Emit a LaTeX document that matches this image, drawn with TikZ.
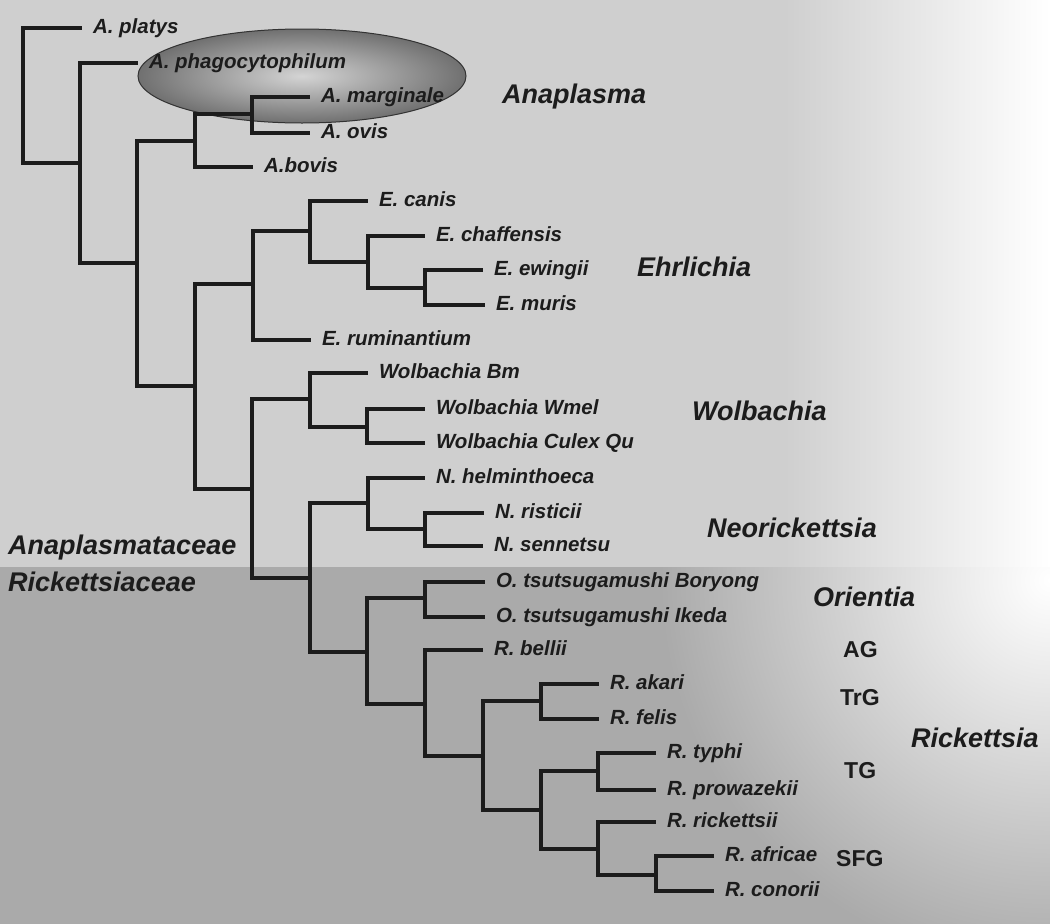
\documentclass[tikz,border=0pt]{standalone}
\usepackage{fontspec}
\setmainfont{Liberation Sans}
\definecolor{upperbg}{RGB}{207,207,207}
\definecolor{lowerbg}{RGB}{170,170,170}
\definecolor{ovaldark}{RGB}{112,112,112}
\definecolor{ovallight}{RGB}{212,212,212}
\definecolor{treeline}{RGB}{28,28,28}
\tikzstyle{branch}=[treeline,line width=3.2pt]
\tikzstyle{leaf}=[anchor=west,inner sep=0pt,outer xsep=11pt,text height=14pt,text depth=4pt,text=treeline,font=\fontsize{20.5}{23}\selectfont\bfseries\itshape]
\tikzstyle{genus}=[anchor=base west,inner sep=0pt,text=treeline,font=\fontsize{27}{30}\selectfont\bfseries\itshape]
\tikzstyle{group}=[anchor=base west,inner sep=0pt,text=treeline,font=\fontsize{23}{26}\selectfont\bfseries]

\begin{document}
\begin{tikzpicture}[x=1pt,y=-1pt]
  \useasboundingbox (0,0) rectangle (1050,924);

  % background, two families
  \fill[upperbg] (0,0) rectangle (785,567);
  \shade[left color=upperbg,right color=white] (785,0) rectangle (1050,567);
  \fill[lowerbg] (0,567) rectangle (1050,924);
  \begin{scope}
    \clip (0,567) rectangle (1050,924);
    \shade[inner color=white,outer color=lowerbg] (1050,580) circle (390);
  \end{scope}

  % Anaplasma oval
  \shadedraw[inner color=ovallight,outer color=ovaldark,draw=black!80,line width=1pt] (302,76) ellipse (164 and 47);

  % internal nodes
  \coordinate (root) at (23,95);
  \coordinate (n1) at (80,163);
  \coordinate (n2) at (137,263);
  \coordinate (anap) at (195,141);
  \coordinate (margovis) at (252,114);
  \coordinate (n3) at (195,386);
  \coordinate (ehr) at (253,284);
  \coordinate (e1) at (310,231);
  \coordinate (e2) at (368,262);
  \coordinate (e3) at (425,288);
  \coordinate (n4) at (252,489);
  \coordinate (wol) at (310,399);
  \coordinate (w2) at (367,427);
  \coordinate (n5) at (310,578);
  \coordinate (neo) at (368,503);
  \coordinate (neo2) at (425,529);
  \coordinate (rk) at (367,652);
  \coordinate (orient) at (425,598);
  \coordinate (r1) at (425,704);
  \coordinate (r2) at (483,756);
  \coordinate (r3) at (541,701);
  \coordinate (r4) at (541,810);
  \coordinate (r5) at (598,771);
  \coordinate (r6) at (598,849);
  \coordinate (r7) at (656,875);

  % leaves
  \node[leaf] (platys) at (82,28) {A. platys};
  \node[leaf] (phago) at (138,63) {A. phagocytophilum};
  \node[leaf] (marginale) at (310,97) {A. marginale};
  \node[leaf] (ovis) at (310,133) {A. ovis};
  \node[leaf] (bovis) at (253,167) {A.bovis};
  \node[leaf] (canis) at (368,201) {E. canis};
  \node[leaf] (chaffensis) at (425,236) {E. chaffensis};
  \node[leaf] (ewingii) at (483,270) {E. ewingii};
  \node[leaf] (muris) at (485,305) {E. muris};
  \node[leaf] (rumin) at (311,340) {E. ruminantium};
  \node[leaf] (wbm) at (368,373) {Wolbachia Bm};
  \node[leaf] (wmel) at (425,409) {Wolbachia Wmel};
  \node[leaf] (wculex) at (425,443) {Wolbachia Culex Qu};
  \node[leaf] (helm) at (425,478) {N. helminthoeca};
  \node[leaf] (risticii) at (484,513) {N. risticii};
  \node[leaf] (sennetsu) at (483,546) {N. sennetsu};
  \node[leaf] (boryong) at (485,582) {O. tsutsugamushi Boryong};
  \node[leaf] (ikeda) at (485,617) {O. tsutsugamushi Ikeda};
  \node[leaf] (bellii) at (483,650) {R. bellii};
  \node[leaf] (akari) at (599,684) {R. akari};
  \node[leaf] (felis) at (599,719) {R. felis};
  \node[leaf] (typhi) at (656,753) {R. typhi};
  \node[leaf] (prowazekii) at (656,790) {R. prowazekii};
  \node[leaf] (rickettsii) at (656,822) {R. rickettsii};
  \node[leaf] (africae) at (714,856) {R. africae};
  \node[leaf] (conorii) at (714,891) {R. conorii};

  % branches
  \foreach \p/\c in {root/platys.west,root/n1,n1/phago.west,n1/n2,n2/anap,n2/n3,
      anap/margovis,anap/bovis.west,margovis/marginale.west,margovis/ovis.west,
      n3/ehr,n3/n4,ehr/e1,ehr/rumin.west,e1/canis.west,e1/e2,e2/chaffensis.west,e2/e3,
      e3/ewingii.west,e3/muris.west,n4/wol,n4/n5,wol/wbm.west,wol/w2,
      w2/wmel.west,w2/wculex.west,n5/neo,n5/rk,neo/helm.west,neo/neo2,
      neo2/risticii.west,neo2/sennetsu.west,rk/orient,rk/r1,
      orient/boryong.west,orient/ikeda.west,r1/bellii.west,r1/r2,r2/r3,r2/r4,
      r3/akari.west,r3/felis.west,r4/r5,r4/r6,r5/typhi.west,r5/prowazekii.west,
      r6/rickettsii.west,r6/r7,r7/africae.west,r7/conorii.west}
    \draw[branch] (\p) |- (\c);

  % genus and family labels
  \node[genus] (anaplasma) at (502,103) {Anaplasma};
  \node[genus] (ehrlichia) at (637,276) {Ehrlichia};
  \node[genus] (wolbachia) at (692,420) {Wolbachia};
  \node[genus] (neorick) at (707,537) {Neorickettsia};
  \node[genus] (anafam) at (8,554) {Anaplasmataceae};
  \node[genus] (rickfam) at (8,591) {Rickettsiaceae};
  \node[genus] (orientia) at (813,606) {Orientia};
  \node[genus] (rickettsia) at (911,747) {Rickettsia};

  % Rickettsia groups
  \node[group] (ag) at (843,657) {AG};
  \node[group] (trg) at (840,705) {TrG};
  \node[group] (tg) at (844,778) {TG};
  \node[group] (sfg) at (836,866) {SFG};

\end{tikzpicture}
\end{document}
